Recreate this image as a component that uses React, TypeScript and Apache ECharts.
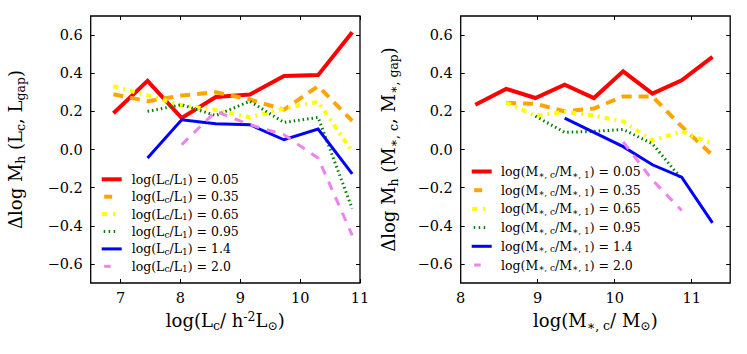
import React, { useEffect, useRef } from 'react';
import * as echarts from 'echarts';

// ---------- data ----------
const leftX = [6.88, 7.45, 8.02, 8.59, 9.16, 9.73, 10.3, 10.87];
const leftRed = [0.19, 0.36, 0.165, 0.275, 0.288, 0.385, 0.39, 0.615];
const leftOrange = [0.29, 0.253, 0.283, 0.3, 0.262, 0.209, 0.332, 0.15];
const leftYellow = [0.332, 0.283, 0.232, 0.207, 0.168, 0.215, 0.25, -0.01];
const leftGreen = [null, 0.2, 0.235, 0.178, 0.253, 0.142, 0.168, -0.31];
const leftBlue = [null, -0.045, 0.156, 0.135, 0.13, 0.051, 0.107, -0.128];
const leftViolet = [null, null, 0.025, 0.2, 0.13, 0.077, -0.045, -0.45];

const rightX = [8.19, 8.59, 8.97, 9.35, 9.73, 10.11, 10.49, 10.87, 11.27];
const rightRed = [0.235, 0.318, 0.27, 0.34, 0.27, 0.41, 0.293, 0.363, 0.486];
const rightOrange = [null, 0.244, 0.24, 0.2, 0.215, 0.278, 0.278, 0.121, -0.03];
const rightYellow = [null, 0.245, 0.177, 0.198, 0.178, 0.147, 0.047, 0.095, 0.03];
const rightGreen = [null, null, 0.175, 0.09, 0.095, 0.105, 0.03, -0.155, null];
const rightBlue = [null, null, null, 0.165, 0.09, 0.015, -0.08, -0.145, -0.385];
const rightViolet = [null, null, null, null, null, 0.04, -0.16, -0.32, null];

const ratioLabels = ['0.05', '0.35', '0.65', '0.95', '1.4', '2.0'];
const leftXTicks = [7, 8, 9, 10, 11];
const rightXTicks = [8, 9, 10, 11];
const yTicks = [-0.6, -0.4, -0.2, 0, 0.2, 0.4, 0.6];

// ---------- styles ----------
const FONT = 'DejaVu Serif';
const STYLES: any[] = [
  { color: '#ff0000', width: 4, type: 'solid' },
  { color: '#ffa500', width: 4, type: [10, 7] },
  { color: '#ffff00', width: 4, type: [5, 5, 2, 5] },
  { color: '#008000', width: 3, type: [1.5, 3] },
  { color: '#0000ff', width: 3, type: 'solid' },
  { color: '#ee82ee', width: 3, type: [9, 8] },
];
const SAMPLE_SEGS: number[][][] = [
  [[0, 20]],
  [[2.5, 10.5]],
  [[0.5, 5.5], [11.5, 13.5]],
  [[2, 3.5], [7, 8.5], [12, 13.5]],
  [[0, 20]],
  [[2.5, 9]],
];

const GRID_L = { left: 90.7, top: 16, width: 269.3, height: 267 };
const GRID_R = { left: 460.7, top: 16, width: 269.5, height: 267 };

const nameRich = {
  sub: { fontFamily: FONT, fontSize: 12.5, lineHeight: 12, verticalAlign: 'bottom', color: '#000' },
  sup: { fontFamily: FONT, fontSize: 12.5, lineHeight: 12, verticalAlign: 'top', color: '#000' },
};
const legendRich = {
  sub: { fontFamily: FONT, fontSize: 9, lineHeight: 9, verticalAlign: 'bottom', fill: '#000' },
};

function pairs(xs: number[], ys: (number | null)[]) {
  const out: number[][] = [];
  xs.forEach((x, i) => {
    const y = ys[i];
    if (y !== null && y !== undefined) out.push([x, y]);
  });
  return out;
}

function fmtY(v: number) {
  const s = Math.abs(v).toFixed(1);
  return v < -1e-9 ? '\u2212' + s : s;
}

function makeXAxes(gridIndex: number, min: number, max: number, ticks: number[], name: string) {
  const common = {
    gridIndex,
    type: 'value',
    min,
    max,
    splitLine: { show: false },
    axisLine: { show: false, onZero: false },
    axisTick: { inside: true, length: 4, customValues: ticks, lineStyle: { color: '#000', width: 1 } },
  };
  return [
    {
      ...common,
      position: 'bottom',
      axisLabel: {
        customValues: ticks,
        margin: 7,
        fontFamily: FONT,
        fontSize: 14.5,
        color: '#000',
        formatter: (v: number) => String(v),
      },
      name,
      nameLocation: 'middle',
      nameGap: 25,
      nameTextStyle: { fontFamily: FONT, fontSize: 18, lineHeight: 22, color: '#000', rich: nameRich },
    },
    { ...common, position: 'top', axisLabel: { show: false } },
  ];
}

function makeYAxes(gridIndex: number, name: string, nameGap: number) {
  const common = {
    gridIndex,
    type: 'value',
    min: -0.7,
    max: 0.7,
    splitLine: { show: false },
    axisLine: { show: false, onZero: false },
    axisTick: { inside: true, length: 4, customValues: yTicks, lineStyle: { color: '#000', width: 1 } },
  };
  return [
    {
      ...common,
      position: 'left',
      axisLabel: {
        customValues: yTicks,
        margin: 8,
        fontFamily: FONT,
        fontSize: 14.5,
        color: '#000',
        formatter: (v: number) => fmtY(v),
      },
      name,
      nameLocation: 'middle',
      nameGap,
      nameTextStyle: { fontFamily: FONT, fontSize: 18, lineHeight: 22, color: '#000', rich: nameRich },
    },
    { ...common, position: 'right', axisLabel: { show: false } },
  ];
}

function legendGraphics(x0: number, y0: number, step: number, textX: number, labelFn: (r: string) => string) {
  const els: any[] = [];
  ratioLabels.forEach((r, i) => {
    const y = y0 + i * step;
    SAMPLE_SEGS[i].forEach((seg) => {
      els.push({
        type: 'line',
        silent: true,
        shape: { x1: x0 + seg[0], y1: y, x2: x0 + seg[1], y2: y },
        style: { stroke: STYLES[i].color, lineWidth: STYLES[i].width, lineCap: 'butt' },
      });
    });
    els.push({
      type: 'text',
      silent: true,
      x: textX,
      y: y,
      style: {
        text: labelFn(r),
        fontFamily: FONT,
        fontSize: 12.5,
        lineHeight: 15,
        fill: '#000',
        verticalAlign: 'middle',
        align: 'left',
        rich: legendRich,
      },
    });
  });
  return els;
}

export default function App() {
  const ref = useRef<HTMLDivElement>(null);

  useEffect(() => {
    document.body.style.margin = '0';
    if (!ref.current) return;
    const chart = echarts.init(ref.current, null, { renderer: 'svg' });

    const leftSets = [leftRed, leftOrange, leftYellow, leftGreen, leftBlue, leftViolet];
    const rightSets = [rightRed, rightOrange, rightYellow, rightGreen, rightBlue, rightViolet];

    const series: any[] = [];
    leftSets.forEach((ys, i) => {
      series.push({
        type: 'line',
        name: 'L' + ratioLabels[i],
        xAxisIndex: 0,
        yAxisIndex: 0,
        data: pairs(leftX, ys),
        symbol: 'none',
        showSymbol: false,
        lineStyle: { color: STYLES[i].color, width: STYLES[i].width, type: STYLES[i].type, cap: 'butt', join: 'miter' },
        z: 2 + i * 0.01,
      });
    });
    rightSets.forEach((ys, i) => {
      series.push({
        type: 'line',
        name: 'M' + ratioLabels[i],
        xAxisIndex: 2,
        yAxisIndex: 2,
        data: pairs(rightX, ys),
        symbol: 'none',
        showSymbol: false,
        lineStyle: { color: STYLES[i].color, width: STYLES[i].width, type: STYLES[i].type, cap: 'butt', join: 'miter' },
        z: 2 + i * 0.01,
      });
    });

    const option: any = {
      animation: false,
      backgroundColor: '#fff',
      grid: [
        { ...GRID_L, show: true, borderColor: '#000', borderWidth: 1.3, backgroundColor: 'transparent', z: 5 },
        { ...GRID_R, show: true, borderColor: '#000', borderWidth: 1.3, backgroundColor: 'transparent', z: 5 },
      ],
      xAxis: [
        ...makeXAxes(0, 6.5, 11, leftXTicks, 'log(L{sub|c}/ h{sup|-2}L{sub|\u2299})'),
        ...makeXAxes(1, 8, 11.5, rightXTicks, 'log(M{sub|\u2217, c}/ M{sub|\u2299})'),
      ],
      yAxis: [
        ...makeYAxes(0, '\u0394log M{sub|h} (L{sub|c}, L{sub|gap})', 64),
        ...makeYAxes(1, '\u0394log M{sub|h} (M{sub|\u2217, c}, M{sub|\u2217, gap})', 61),
      ],
      series,
      graphic: [
        ...legendGraphics(101.7, 179.3, 17.4, 131.7, (r) => 'log(L{sub|c}/L{sub|1}) = ' + r),
        ...legendGraphics(471.7, 171.5, 18.7, 501, (r) => 'log(M{sub|\u2217, c}/M{sub|\u2217, 1}) = ' + r),
      ],
    };
    chart.setOption(option);
    return () => chart.dispose();
  }, []);

  return (
    <div
      ref={ref}
      style={{ position: 'absolute', left: 0, top: 0, width: 747, height: 354 }}
    />
  );
}
